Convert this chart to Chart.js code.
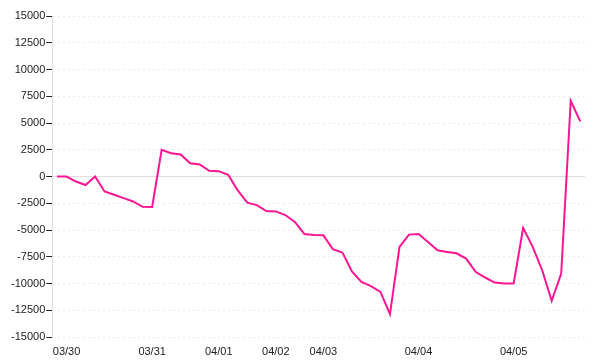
<!DOCTYPE html>
<html>
<head>
<meta charset="utf-8">
<script src="https://cdn.jsdelivr.net/npm/chart.js@4/dist/chart.umd.min.js"></script>
<style>
  html, body { margin: 0; padding: 0; background: #fff; }
  #wrap { width: 600px; height: 360px; }
</style>
</head>
<body>
<div id="wrap"><canvas id="pnlChart" width="600" height="360"></canvas></div>
<script>
// day labels and the point index where each one sits
const dayLabels = ['03/30', '03/31', '04/01', '04/02', '04/03', '04/04', '04/05'];
const dayIndex = [1, 10, 17, 23, 28, 38, 48];

// values, one per point
const pnl = [
  0, 0, -470, -800, 0, -1400, -1710, -2020, -2330, -2830,
  -2850, 2500, 2170, 2050, 1240, 1120, 530, 500, 150, -1300,
  -2450, -2670, -3230, -3260, -3600, -4250, -5370, -5470, -5500, -6800,
  -7110, -8870, -9850, -10250, -10780, -12860, -6590, -5430, -5370, -6120,
  -6900, -7050, -7180, -7670, -8910, -9440, -9910, -10000, -10000, -4810,
  -6580, -8760, -11620, -9070, 7080, 5150
];

const yTicks = [-15000, -12500, -10000, -7500, -5000, -2500, 0, 2500, 5000, 7500, 10000, 12500, 15000];

const labels = pnl.map(() => '');
dayIndex.forEach((idx, k) => { labels[idx] = dayLabels[k]; });

const font = { family: '"Liberation Sans", Arial, sans-serif', size: 11 };

new Chart(document.getElementById('pnlChart'), {
  type: 'line',
  data: {
    labels: labels,
    datasets: [{
      data: pnl,
      borderColor: '#ff1493',
      borderWidth: 2,
      pointRadius: 0,
      fill: false,
      tension: 0
    }]
  },
  options: {
    responsive: false,
    animation: false,
    layout: { padding: { top: 16, right: 15, bottom: 0, left: 10 } },
    plugins: { legend: { display: false }, tooltip: { enabled: false } },
    scales: {
      x: {
        offset: true,
        grid: { display: false },
        border: { display: false },
        afterFit: axis => { axis.height = 23; },
        ticks: { autoSkip: false, maxRotation: 0, color: '#222', font: font, padding: 0 }
      },
      y: {
        min: yTicks[0],
        max: yTicks[yTicks.length - 1],
        afterBuildTicks: axis => { axis.ticks = yTicks.map(v => ({ value: v })); },
        grid: {
          color: ctx => (ctx.tick && ctx.tick.value === 0) ? '#dddddd' : '#ebebeb',
          tickColor: '#222',
          tickLength: 6,
          tickBorderDash: []
        },
        border: {
          color: '#dddddd',
          dash: ctx => (ctx.type === 'tick' && ctx.tick.value !== 0) ? [2, 3] : []
        },
        ticks: { color: '#222', font: font, padding: 1, callback: v => String(v) }
      }
    }
  }
});
</script>
</body>
</html>
